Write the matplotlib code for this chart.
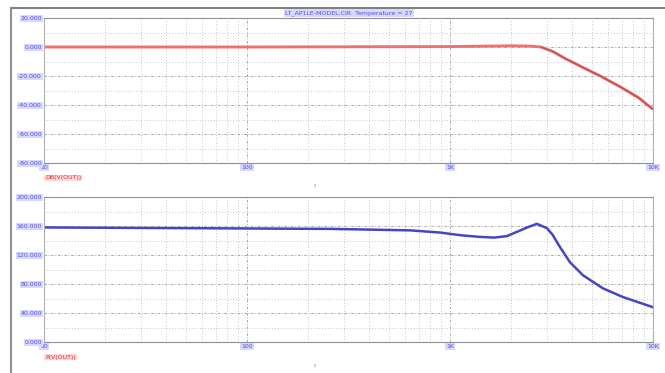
import matplotlib
matplotlib.use("Agg")
import matplotlib.pyplot as plt
import numpy as np
from matplotlib.lines import Line2D

# AC sweep (Hz)
freq_db = [10, 100, 1000, 1500, 2000, 2500, 2800, 3200, 3700, 4500, 5500, 7000, 8500, 10000]
mag_db = [0, 0, 0.3, 0.6, 0.8, 0.6, 0, -3, -8, -14, -20, -28, -35, -43]

freq_ph = [10, 260, 635, 890, 1150, 1400, 1650, 1900, 2140, 2400, 2680, 3000, 3200,
           3480, 3900, 4520, 5670, 7110, 10000]
phase = [158, 156, 154, 151, 147, 145, 144, 146, 152, 158, 163, 157, 148,
         131, 110, 92, 74, 62, 48]

mag_ticks = [20, 0, -20, -40, -60, -80]
mag_labels = ["20.000", "0.000", "-20.000", "-40.000", "-60.000", "-80.000"]
ph_ticks = [200, 160, 120, 80, 40, 0]
ph_labels = ["200.000", "160.000", "120.000", "80.000", "40.000", "0.000"]
x_ticks = [10, 100, 1000, 10000]
x_labels = ["10", "100", "1K", "10K"]

title = "LT_AP1LE-MODEL.CIR  Temperature = 27"
trace1 = "DB(V(OUT))"
trace2 = "P(V(OUT))"

W, H = 665, 373
fig = plt.figure(figsize=(W / 100, H / 100), dpi=100)
fig.patch.set_facecolor("white")

blue_txt = "#5050e0"
lab_bg = "#d8d8ff"
grid_c = "#9a9a9a"


def px(x0, y0, w, h):
    return [x0 / W, 1 - (y0 + h) / H, w / W, h / H]


def setup(ax, yticks, ylabels, ylim):
    ax.set_xscale("log")
    ax.set_xlim(10, 10000)
    ax.set_ylim(*ylim)
    ax.set_yticks(yticks)
    ax.set_yticklabels(ylabels)
    ax.set_yticks([(a + b) / 2 for a, b in zip(yticks[:-1], yticks[1:])], minor=True)
    ax.set_xticks(x_ticks)
    ax.set_xticklabels(x_labels)
    ax.grid(True, which="major", color=grid_c, lw=0.6, ls=(0, (3, 2, 1, 2)))
    ax.grid(True, which="minor", color=grid_c, lw=0.5, ls=(0, (1, 3)))
    ax.tick_params(which="both", length=0, pad=1.5)
    ax.tick_params(axis="y", labelsize=4.5, labelcolor=blue_txt)
    ax.tick_params(axis="x", labelsize=4.5, labelcolor=blue_txt)
    for t in ax.get_yticklabels() + ax.get_xticklabels():
        t.set_bbox(dict(facecolor=lab_bg, edgecolor="none", pad=0.6))
    for s in ax.spines.values():
        s.set_color("#b0b0b0")
        s.set_linewidth(0.8)
    ax.spines["top"].set_color("#909090")
    ax.spines["bottom"].set_color("#909090")


ax1 = fig.add_axes(px(44, 18, 609, 145))
setup(ax1, mag_ticks, mag_labels, (-80, 20))
ax1.plot(freq_db, mag_db, color="#f07070", lw=2.1, solid_capstyle="butt")
ax1.plot(freq_db[6:], mag_db[6:], color="#803030", lw=0.7, alpha=0.6)

ax2 = fig.add_axes(px(44, 197, 609, 145))
setup(ax2, ph_ticks, ph_labels, (0, 200))
ax2.plot(freq_ph, phase, color="#4646c4", lw=1.8)

# frame lines of the window
fig.add_artist(Line2D([11 / W, 1], [1 - 8 / H, 1 - 8 / H], color="#808080", lw=1.5))
fig.add_artist(Line2D([11 / W, 11 / W], [0, 1 - 8 / H], color="#909090", lw=1.5))

fig.text(349 / W, 1 - 13 / H, title, color=blue_txt, fontsize=4.5, ha="center", va="center",
         bbox=dict(facecolor=lab_bg, edgecolor="none", pad=0.6))
fig.text(45 / W, 1 - 178 / H, trace1, color="#e03030", fontsize=4.5, ha="left", va="center",
         bbox=dict(facecolor="#ffd8d8", edgecolor="none", pad=0.6))
fig.text(45 / W, 1 - 357 / H, trace2, color="#e03030", fontsize=4.5, ha="left", va="center",
         bbox=dict(facecolor="#ffd8d8", edgecolor="none", pad=0.6))
fig.text(315 / W, 1 - 187 / H, "f", color="#909090", fontsize=4, ha="center", va="center")
fig.text(315 / W, 1 - 366 / H, "f", color="#909090", fontsize=4, ha="center", va="center")

fig.savefig("out.png", dpi=100)
